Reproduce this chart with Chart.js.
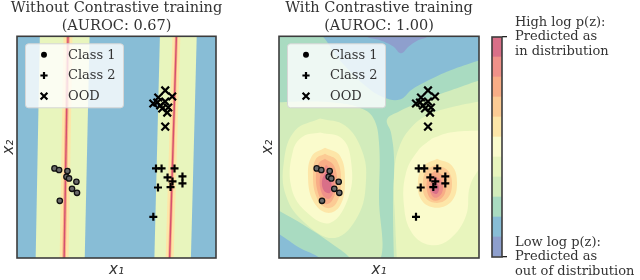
<!DOCTYPE html>
<html>
<head>
<meta charset="utf-8">
<script src="https://cdn.jsdelivr.net/npm/chart.js@4.4.1/dist/chart.umd.min.js"></script>
<style>
  body { margin: 0; background: #fff; }
  #wrap { position: relative; width: 640px; height: 280px; overflow: hidden; }
  canvas { position: absolute; top: 0; }
</style>
</head>
<body>
<div id="wrap">
  <canvas id="leftChart" width="233" height="280" style="left:0"></canvas>
  <canvas id="rightChart" width="278" height="280" style="left:240px"></canvas>
  <canvas id="barChart" width="160" height="280" style="left:480px"></canvas>
</div>
<script>
// contour level colours, low log p(z) -> high log p(z)
const levelColors = ['#8e9fcd', '#88bdd6', '#a9dbc1', '#d2ecbb', '#e8f5bd', '#fafbcc',
                     '#fde6a8', '#fccb94', '#f8ad86', '#ef9189', '#d96f88'];

// points (same samples in both panels), x in 0..200, y in 0..221
const class1X = [37.7, 42.3, 50.7, 49.7, 52.3, 59.7, 55.3, 60.3, 43];
const class1Y = [89.3, 87.7, 86.7, 81, 79.3, 76, 69, 65, 57];
const class2X = [139.7, 145.3, 158.3, 151.3, 156.3, 166.3, 166.3, 141.7, 154.3, 137];
const class2Y = [89.3, 89.3, 89.3, 80.3, 76.3, 81.3, 74.3, 70.3, 70.7, 41];
const oodX = [149, 156, 142, 137, 144, 152, 151, 141, 149, 146, 149];
const oodY = [167, 161, 160, 154, 152, 150, 145, 155, 156, 149, 131];
const seriesNames = ['Class 1', 'Class 2', 'OOD'];

const titleLeft = ['Without Contrastive training', '(AUROC: 0.67)'];
const titleRight = ['With Contrastive training', '(AUROC: 1.00)'];
const colorbarTop = ['High log p(z):', 'Predicted as', 'in distribution'];
const colorbarBottom = ['Low log p(z):', 'Predicted as', 'out of distribution'];

// left panel: vertical bands
const leftBase = [[-5, -5], [205, -5], [205, 226], [-5, 226]];
const stripeAGreen = [[23, 224], [73, 224], [68, -3], [18.7, -3]];
const stripeAYellow = [[46.8, 224], [55.8, 224], [51.8, -3], [42.8, -3]];
const stripeAOrange = [[49.5, 224], [53.1, 224], [49.1, -3], [45.5, -3]];
const stripeARidge = [[51.3, 224], [47.3, -3]];
const stripeBGreen = [[143.7, 224], [180.7, 224], [174.7, -3], [138, -3]];
const stripeBYellow = [[156.3, 224], [164.3, 224], [157.3, -3], [149.3, -3]];
const stripeBOrange = [[158.8, 224], [161.8, 224], [154.8, -3], [151.8, -3]];
const stripeBRidge = [[160.3, 224], [153.3, -3]];

// right panel: filled contour regions
const rightBase = [[-5, -5], [205, -5], [205, 226], [-5, 226]];
const rightL2 = [[-5, 226], [36, 226], [61, 197], [86, 172], [105, 160], [121, 158], [133, 168],
                 [149, 177], [171, 187], [200, 197], [205, 198], [205, -5], [41, -5], [41, 0], [21, 10], [0, 24], [-5, 26]];
const rightL0 = [[87, 226], [87, 221], [101, 217], [114, 211], [122, 204], [130, 211], [139, 217], [149, 221], [149, 226]];
const rightL3a = [[-5, 155], [25, 156], [55, 155], [80, 150], [94, 140], [100, 115], [100, 60], [100, -5],
                  [71, -5], [71, 0], [56, 12], [31, 29], [0, 47], [-5, 49]];
const rightL3b = [[115, -5], [114, 50], [115, 100], [112, 125], [108, 138], [120, 146], [140, 155], [160, 163],
                  [180, 170], [200, 177], [205, 178], [205, -5]];
const rightL4a = [[41, 139], [66, 132], [83, 107], [87, 77], [79, 42], [56, 20], [26, 35], [7, 62], [5, 97], [16, 127]];
const rightL4b = [[118, -5], [116, 40], [115, 80], [120, 110], [135, 133], [155, 145], [180, 152], [200, 156], [205, 157], [205, -5]];
const rightL5a = [[41, 125], [63, 119], [72, 97], [70, 62], [51, 35], [26, 47], [12, 72], [14, 107], [24, 121]];
const rightL5b = [[153, 119], [171, 125], [200, 127], [205, 127], [205, 100], [191, 72], [187, 42], [171, 19],
                  [151, 13], [133, 25], [125, 52], [127, 85], [139, 107]];
const rightL6a = [[46, 110], [61, 102], [66, 77], [61, 52], [48, 45], [34, 57], [29, 82], [33, 102]];
const rightL7a = [[46, 104], [58, 97], [62, 75], [57, 54], [47, 50], [37, 62], [34, 85], [37, 99]];
const rightL8a = [[46, 99], [55, 92], [58, 74], [53, 57], [46, 54], [39, 65], [37, 85], [40, 95]];
const rightL9a = [[47, 93], [54, 85], [55, 69], [50, 59], [43, 64], [41, 81]];
const rightL10a = [[47, 86], [52, 77], [51, 65], [45, 67], [43, 77]];
const rightL6b = [[158, 99], [173, 92], [178, 75], [173, 57], [158, 50], [143, 57], [139, 77], [145, 92]];
const rightL7b = [[157, 93], [169, 87], [173, 73], [168, 59], [156, 55], [146, 61], [144, 77], [148, 88]];
const rightL8b = [[156, 87], [165, 81], [167, 69], [162, 59], [153, 58], [148, 67], [149, 80]];
const rightL9b = [[156, 82], [163, 76], [163, 65], [156, 60], [151, 67], [152, 77]];
const rightL10b = [[156, 77], [160, 71], [158, 64], [153, 66], [153, 73]];

// back to front
const leftRegions = [[1, leftBase], [4, stripeAGreen], [6, stripeAYellow], [8, stripeAOrange],
                     [4, stripeBGreen], [6, stripeBYellow], [8, stripeBOrange]];
const rightRegions = [[1, rightBase], [2, rightL2], [0, rightL0], [3, rightL3a], [3, rightL3b],
                      [4, rightL4a], [4, rightL4b], [5, rightL5a], [5, rightL5b], [6, rightL6a], [6, rightL6b],
                      [7, rightL7a], [7, rightL7b], [8, rightL8a], [8, rightL8b], [9, rightL9a], [9, rightL9b],
                      [10, rightL10a], [10, rightL10b]];

const serif = 'DejaVu Serif';
const textColor = '#333';
const markerStyles = [
  { pointStyle: 'circle', radius: 2.7, legendRadius: 2.3, borderWidth: 1.3, bg: '#6a6a6a', border: '#111' },
  { pointStyle: 'cross', radius: 4, legendRadius: 3.6, borderWidth: 2.2, bg: '#000', border: '#000' },
  { pointStyle: 'crossRot', radius: 5.4, legendRadius: 4.8, borderWidth: 2.2, bg: '#000', border: '#000' },
];

const toPts = (xs, ys) => xs.map((x, i) => ({ x: x, y: ys[i] }));
const closed = poly => poly.concat([poly[0]]).map(([x, y]) => ({ x: x, y: y }));

function regionSets(regions, tension) {
  return regions.map(([lvl, poly]) => ({
    data: closed(poly),
    showLine: true,
    fill: 'shape',
    backgroundColor: levelColors[lvl],
    borderColor: 'transparent',
    borderWidth: 0,
    pointRadius: 0,
    tension: tension,
  }));
}

function ridgeSet(line) {
  return {
    data: line.map(([x, y]) => ({ x: x, y: y })),
    showLine: true, fill: false,
    borderColor: '#d5506f', borderWidth: 1.4, pointRadius: 0,
  };
}

function pointSets() {
  return [[class1X, class1Y], [class2X, class2Y], [oodX, oodY]].map(([xs, ys], i) => ({
    label: seriesNames[i],
    data: toPts(xs, ys),
    showLine: false,
    pointStyle: markerStyles[i].pointStyle,
    pointRadius: markerStyles[i].radius,
    pointBorderWidth: markerStyles[i].borderWidth,
    pointBackgroundColor: markerStyles[i].bg,
    pointBorderColor: markerStyles[i].border,
  }));
}

function withOrder(sets) {
  // first = back, last = front
  sets.forEach((d, i) => { d.order = sets.length - i; });
  return sets;
}

const framePlugin = {
  id: 'frame',
  afterDatasetsDraw(chart) {
    const { ctx, chartArea: a } = chart;
    ctx.save();
    ctx.strokeStyle = '#3c3c3c';
    ctx.lineWidth = 1.6;
    ctx.strokeRect(a.left, a.top, a.right - a.left, a.bottom - a.top);
    ctx.restore();
  }
};

// legend box inside the plot (drawn after the contours)
const boxLegend = {
  id: 'boxLegend',
  afterDraw(chart) {
    const { ctx, chartArea: a } = chart;
    const x = a.left + 8, y = a.top + 7, w = 98, h = 64;
    ctx.save();
    ctx.beginPath();
    if (ctx.roundRect) ctx.roundRect(x + 0.5, y + 0.5, w, h, 3); else ctx.rect(x + 0.5, y + 0.5, w, h);
    ctx.fillStyle = 'rgba(255,255,255,0.8)';
    ctx.fill();
    ctx.strokeStyle = '#d6d6d6';
    ctx.lineWidth = 1;
    ctx.stroke();
    seriesNames.forEach((name, i) => {
      const cy = y + 11.5 + i * 20.7;
      const m = markerStyles[i];
      ctx.fillStyle = '#000';
      ctx.strokeStyle = '#000';
      ctx.lineWidth = m.borderWidth;
      Chart.helpers.drawPoint(ctx, { pointStyle: m.pointStyle, radius: m.legendRadius, borderWidth: m.borderWidth, rotation: 0 }, x + 19, cy);
      ctx.fillStyle = textColor;
      ctx.font = '13px "' + serif + '"';
      ctx.textBaseline = 'middle';
      ctx.textAlign = 'left';
      ctx.fillText(name, x + 43, cy + 0.5);
    });
    ctx.restore();
  }
};

function panelOptions(title, yWidth, yTitlePad) {
  return {
    responsive: false,
    animation: false,
    devicePixelRatio: 1,
    layout: { padding: 0 },
    plugins: {
      legend: { display: false },
      tooltip: { enabled: false },
      title: {
        display: true, text: title, color: textColor,
        font: { family: serif, size: 14.5, weight: 'normal', lineHeight: 1.2 },
        padding: { top: 0, bottom: 1.5 }
      }
    },
    scales: {
      x: {
        type: 'linear', min: 0, max: 200,
        grid: { display: false }, border: { display: false }, ticks: { display: false },
        title: { display: true, text: 'x₁', color: textColor,
                 font: { family: 'DejaVu Sans', size: 15, style: 'italic' }, padding: { top: 0, bottom: 1 } },
        afterFit: s => { s.height = 22; }
      },
      y: {
        type: 'linear', min: 0, max: 221,
        grid: { display: false }, border: { display: false }, ticks: { display: false },
        title: { display: true, text: 'x₂', color: textColor,
                 font: { family: 'DejaVu Sans', size: 15, style: 'italic' }, padding: { top: yTitlePad, bottom: 0 } },
        afterFit: s => { s.width = yWidth; }
      },
      // empty axis on the right, keeps the title centred over the plot
      yPad: {
        type: 'linear', position: 'right', display: true,
        grid: { display: false }, border: { display: false }, ticks: { display: false },
        afterFit: s => { s.width = yWidth; }
      }
    }
  };
}

const leftSets = withOrder(regionSets(leftRegions, 0)
  .concat([ridgeSet(stripeARidge), ridgeSet(stripeBRidge)])
  .concat(pointSets()));

new Chart(document.getElementById('leftChart'), {
  type: 'scatter',
  data: { datasets: leftSets },
  options: panelOptions(titleLeft, 17, 0),
  plugins: [framePlugin, boxLegend]
});

const rightSets = withOrder(regionSets(rightRegions, 0.4).concat(pointSets()));

new Chart(document.getElementById('rightChart'), {
  type: 'scatter',
  data: { datasets: rightSets },
  options: panelOptions(titleRight, 39, 19),
  plugins: [framePlugin, boxLegend]
});

// colour bar: one stacked bar, one block per contour level
new Chart(document.getElementById('barChart'), {
  type: 'bar',
  data: {
    labels: [''],
    datasets: levelColors.map(c => ({
      data: [1], backgroundColor: c, borderWidth: 0, barPercentage: 1, categoryPercentage: 1
    }))
  },
  options: {
    responsive: false,
    animation: false,
    devicePixelRatio: 1,
    layout: { padding: { left: 12, right: 0, top: 37, bottom: 23 } },
    plugins: { legend: { display: false }, tooltip: { enabled: false } },
    scales: {
      x: { display: false, stacked: true },
      y: {
        position: 'right', stacked: true, min: 0, max: levelColors.length,
        grid: { drawOnChartArea: false, drawTicks: true, tickLength: 5, color: '#222', lineWidth: 1.3 },
        border: { display: false },
        afterBuildTicks: s => { s.ticks = [{ value: 0 }, { value: levelColors.length }]; },
        ticks: {
          autoSkip: false, padding: 8, color: textColor,
          font: { family: serif, size: 13, lineHeight: 1.14 },
          callback: v => (v === levelColors.length ? colorbarTop : colorbarBottom)
        },
        afterFit: s => { s.width = 138; s.paddingTop = 0; s.paddingBottom = 0; }
      }
    }
  },
  plugins: [framePlugin]
});
</script>
</body>
</html>
